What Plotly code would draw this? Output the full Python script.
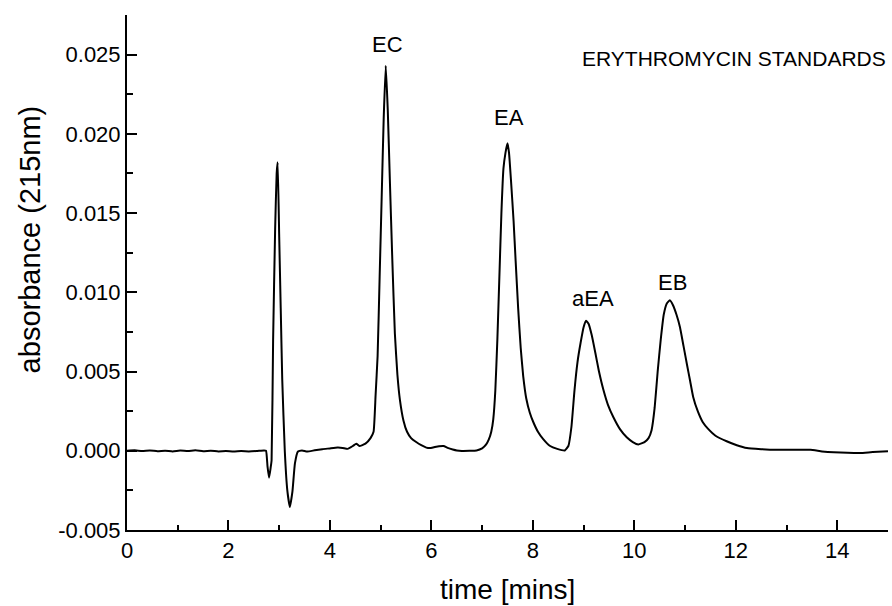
import plotly.graph_objects as go

# retention time (min) and absorbance at 215 nm
time_min = [
    0.00, 0.15, 0.30, 0.45, 0.60, 0.75, 0.90, 1.05, 1.20, 1.35, 1.50, 1.65, 1.80, 1.95,
    2.10, 2.25, 2.40, 2.55, 2.70, 2.74, 2.77, 2.80, 2.83, 2.85, 2.88, 2.92, 2.95, 2.97,
    3.00, 3.03, 3.06, 3.11, 3.16, 3.21, 3.26, 3.31, 3.37, 3.45, 3.55, 3.70, 3.85, 4.00,
    4.15, 4.25, 4.35, 4.45, 4.52, 4.58, 4.70, 4.80, 4.86, 4.90, 4.94, 4.98, 5.02, 5.06,
    5.10, 5.14, 5.18, 5.23, 5.28, 5.33, 5.38, 5.45, 5.52, 5.60, 5.70, 5.80, 5.90, 5.97,
    6.05, 6.15, 6.24, 6.32, 6.42, 6.50, 6.60, 6.75, 6.89, 7.00, 7.08, 7.13, 7.18, 7.22,
    7.26, 7.30, 7.34, 7.38, 7.42, 7.46, 7.50, 7.53, 7.57, 7.62, 7.66, 7.71, 7.76, 7.81,
    7.87, 7.94, 8.01, 8.10, 8.20, 8.34, 8.48, 8.63, 8.70, 8.76, 8.82, 8.88, 8.94, 9.00,
    9.05, 9.10, 9.16, 9.23, 9.30, 9.39, 9.48, 9.59, 9.72, 9.85, 9.97, 10.08, 10.20, 10.28,
    10.34, 10.40, 10.46, 10.52, 10.58, 10.64, 10.70, 10.76, 10.83, 10.90, 10.97, 11.04,
    11.10, 11.16, 11.25, 11.35, 11.45, 11.60, 11.82, 12.02, 12.22, 12.50, 12.80, 13.10,
    13.47, 13.70, 13.93, 14.20, 14.45, 14.70, 15.00,
]
absorbance = [
    0.00000, 0.00003, -0.00002, 0.00002, -0.00003, 0.00000, -0.00004, 0.00001, -0.00002,
    0.00003, -0.00003, 0.00000, -0.00004, -0.00002, -0.00005, -0.00002, -0.00004, -0.00002,
    0.00002, 0.00000, -0.00100, -0.00170, -0.00110, -0.00060, 0.00700, 0.01400, 0.01750,
    0.01820, 0.01350, 0.00900, 0.00450, 0.00000, -0.00250, -0.00355, -0.00260, -0.00080,
    -0.00005, 0.00002, -0.00005, 0.00003, 0.00010, 0.00015, 0.00020, 0.00018, 0.00012,
    0.00030, 0.00045, 0.00030, 0.00045, 0.00080, 0.00120, 0.00350, 0.00600, 0.01100,
    0.01600, 0.02100, 0.02430, 0.02150, 0.01720, 0.01200, 0.00740, 0.00480, 0.00320,
    0.00190, 0.00120, 0.00080, 0.00055, 0.00035, 0.00020, 0.00017, 0.00022, 0.00028,
    0.00030, 0.00018, 0.00008, 0.00002, -0.00001, 0.00000, 0.00002, 0.00015, 0.00040,
    0.00070, 0.00120, 0.00200, 0.00380, 0.00700, 0.01100, 0.01500, 0.01780, 0.01880,
    0.01940, 0.01880, 0.01700, 0.01450, 0.01200, 0.00900, 0.00650, 0.00470, 0.00330,
    0.00240, 0.00180, 0.00120, 0.00075, 0.00030, 0.00012, 0.00002, 0.00030, 0.00150,
    0.00380, 0.00560, 0.00680, 0.00780, 0.00820, 0.00800, 0.00730, 0.00620, 0.00505,
    0.00385, 0.00290, 0.00210, 0.00135, 0.00085, 0.00055, 0.00040, 0.00055, 0.00080,
    0.00130, 0.00270, 0.00500, 0.00700, 0.00860, 0.00930, 0.00950, 0.00920, 0.00860,
    0.00780, 0.00660, 0.00540, 0.00440, 0.00340, 0.00250, 0.00180, 0.00140, 0.00095,
    0.00060, 0.00035, 0.00017, 0.00010, 0.00006, 0.00007, 0.00006, -0.00004, -0.00010,
    -0.00013, -0.00014, -0.00008, -0.00003,
]

# peak labels
peak_labels = ["EC", "EA", "aEA", "EB"]
peak_label_x = [5.14, 7.52, 9.19, 10.76]
peak_label_y = [0.02565, 0.02102, 0.00960, 0.01061]

x_tickvals = [0, 2, 4, 6, 8, 10, 12, 14]
x_ticktext = ["0", "2", "4", "6", "8", "10", "12", "14"]
y_tickvals = [-0.005, 0.000, 0.005, 0.010, 0.015, 0.020, 0.025]
y_ticktext = ["-0.005", "0.000", "0.005", "0.010", "0.015", "0.020", "0.025"]

FONT = "Liberation Sans, Arial, sans-serif"

fig = go.Figure()
fig.add_trace(go.Scatter(
    x=time_min, y=absorbance, mode="lines",
    line=dict(color="black", width=2, shape="spline", smoothing=0.4),
    showlegend=False, hoverinfo="skip",
))

for lab, lx, ly in zip(peak_labels, peak_label_x, peak_label_y):
    fig.add_annotation(x=lx, y=ly, text=lab, showarrow=False,
                       font=dict(family=FONT, size=22, color="black"))

fig.add_annotation(x=1.0, y=0.915, xref="paper", yref="paper", text="ERYTHROMYCIN STANDARDS",
                   showarrow=False, xanchor="right", yanchor="middle",
                   font=dict(family=FONT, size=21, color="black"))

axis_common = dict(
    showline=True, linecolor="black", linewidth=2, mirror=False,
    ticks="inside", tickcolor="black", tickwidth=2, ticklen=10,
    showgrid=False, zeroline=False,
    tickfont=dict(family=FONT, size=22, color="black"),
)

fig.update_layout(
    width=892, height=606,
    margin=dict(l=127, r=4, t=15, b=76),
    paper_bgcolor="white", plot_bgcolor="white",
    font=dict(family=FONT, color="black"),
    xaxis=dict(range=[0, 15], tickvals=x_tickvals, ticktext=x_ticktext,
               minor=dict(ticks="inside", dtick=1, tick0=0, ticklen=5, tickwidth=2,
                          tickcolor="black"),
               **axis_common),
    yaxis=dict(range=[-0.005, 0.0275], tickvals=y_tickvals, ticktext=y_ticktext,
               minor=dict(ticks="inside", dtick=0.0025, tick0=0, ticklen=6, tickwidth=2,
                          tickcolor="black"),
               **axis_common),
)

# axis titles placed as annotations to match the original positions
fig.add_annotation(x=0.5, y=-0.115, xref="paper", yref="paper", text="time [mins]",
                   showarrow=False, yanchor="middle",
                   font=dict(family=FONT, size=28, color="black"))
fig.add_annotation(x=-0.127, y=0.565, xref="paper", yref="paper", text="absorbance (215nm)",
                   showarrow=False, textangle=-90, xanchor="center", yanchor="middle",
                   font=dict(family=FONT, size=29, color="black"))

fig.write_html("out.html")
